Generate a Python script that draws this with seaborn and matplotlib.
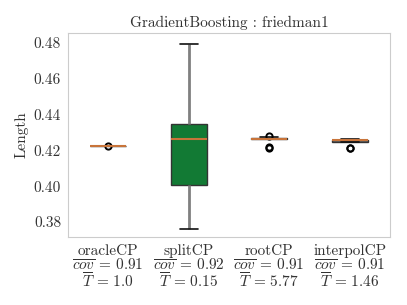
import pandas as pd
import seaborn as sns
import matplotlib.pyplot as plt

# values
methods = ["oracleCP", "splitCP", "rootCP", "interpolCP"]
cov = ["0.91", "0.92", "0.91", "0.91"]
times = ["1.0", "0.15", "5.77", "1.46"]

oracle_len = [0.42225, 0.4224, 0.4224, 0.4224, 0.4224, 0.4224]
split_len = [0.3762, 0.4009, 0.4263, 0.4346, 0.4796]
root_len = [0.4215, 0.4219, 0.4262, 0.4264, 0.4266, 0.4267, 0.4268, 0.4272, 0.4279]
interpol_len = [0.4211, 0.4214, 0.4249, 0.4253, 0.4256, 0.4257, 0.4259, 0.4260, 0.4261]

box_colors = ["#8c8c8c", "#127a34", "#6e6e6e", "#6e6e6e"]

rows = []
for m, vals in zip(methods, [oracle_len, split_len, root_len, interpol_len]):
    for v in vals:
        rows.append({"method": m, "Length": v})
df = pd.DataFrame(rows)

sns.set_style("white")
plt.rcParams["font.family"] = "serif"
plt.rcParams["font.serif"] = ["cmr10"]
plt.rcParams["mathtext.fontset"] = "cm"
plt.rcParams["axes.formatter.use_mathtext"] = True

fs = 11
fig = plt.figure(figsize=(4.07, 3.05), dpi=100)
ax = fig.add_axes([0.167, 0.223, 0.791, 0.669])

sns.boxplot(data=df, x="method", y="Length", hue="method", palette=box_colors,
            order=methods, width=0.45, saturation=1, legend=False, ax=ax,
            boxprops=dict(edgecolor="#333333", linewidth=1.0),
            whiskerprops=dict(color="#808080", linewidth=2.0),
            capprops=dict(color="#111111", linewidth=1.2),
            medianprops=dict(color="#c8743a", linewidth=1.5),
            flierprops=dict(marker="o", markerfacecolor="none", markeredgecolor="black",
                            markersize=4.5, markeredgewidth=1.4))

labels = [f"{m}\n$\\overline{{cov}}$ = {c}\n$\\overline{{T}}$ = {t}"
          for m, c, t in zip(methods, cov, times)]
ax.set_xticks(range(len(methods)))
ax.set_xticklabels(labels, fontsize=fs, color="#333333", linespacing=0.95)
ax.set_yticks([0.38, 0.40, 0.42, 0.44, 0.46, 0.48])
ax.set_yticklabels(["0.38", "0.40", "0.42", "0.44", "0.46", "0.48"], fontsize=fs, color="#333333")
ax.set_ylim(0.3716, 0.4856)
ax.set_xlim(-0.5, 3.5)
ax.set_xlabel("")
ax.set_ylabel("Length", fontsize=fs, color="#333333", labelpad=4)
ax.set_title("GradientBoosting : friedman1", fontsize=fs, color="#333333", pad=4)
ax.tick_params(axis="x", length=0, pad=5)
ax.tick_params(axis="y", length=0, pad=5)
for s in ax.spines.values():
    s.set_color("#cccccc")

plt.savefig("out.png", dpi=100)
